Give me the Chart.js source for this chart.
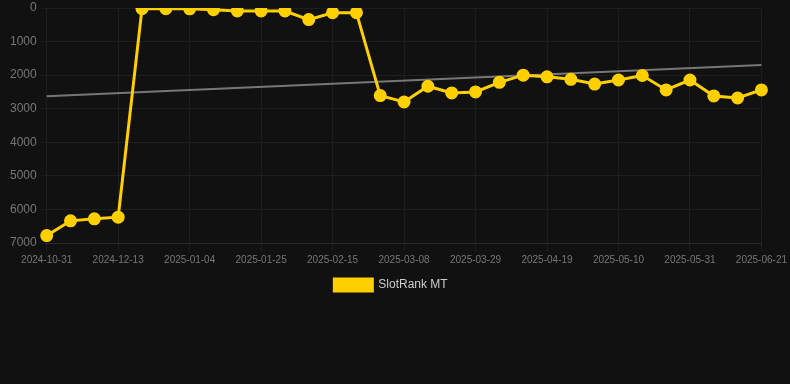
<!DOCTYPE html>
<html><head><meta charset="utf-8">
<script src="https://cdn.jsdelivr.net/npm/chart.js@4"></script>
<style>html,body{margin:0;padding:0;background:#111111;}#wrap{width:790px;height:301px;position:relative;}</style>
</head><body>
<div id="wrap"><canvas id="c"></canvas></div>
<script>
const labels = ["2024-10-31","2024-11-14","2024-11-28","2024-12-13","2024-12-21","2024-12-28","2025-01-04","2025-01-11","2025-01-18","2025-01-25","2025-02-01","2025-02-08","2025-02-15","2025-02-22","2025-03-01","2025-03-08","2025-03-15","2025-03-22","2025-03-29","2025-04-05","2025-04-12","2025-04-19","2025-04-26","2025-05-03","2025-05-10","2025-05-17","2025-05-24","2025-05-31","2025-06-07","2025-06-14","2025-06-21"];
const slotRank = [6780,6340,6280,6230,20,20,25,50,90,90,90,345,140,140,2610,2800,2330,2530,2500,2215,2000,2050,2125,2265,2145,2010,2440,2145,2620,2680,2440];
const trend = [2630,null,null,null,null,null,null,null,null,null,null,null,null,null,null,null,null,null,null,null,null,null,null,null,null,null,null,null,null,null,1695];
const yTicks = [0,1000,2000,3000,4000,5000,6000,7000];

new Chart(document.getElementById('c'), {
  type: 'line',
  data: {
    labels: labels,
    datasets: [
      {label:'SlotRank MT', data: slotRank, borderColor:'#FFD000', backgroundColor:'#FFD000', borderWidth:3, pointRadius:5, pointHoverRadius:5, tension:0, order:1},
      {label:'Trend', data: trend, borderColor:'#777777', borderWidth:2, pointRadius:0, spanGaps:true, order:2}
    ]
  },
  options: {
    responsive:true, maintainAspectRatio:false, animation:false,
    layout:{padding:{top:2,right:12,left:4,bottom:0}},
    plugins:{
      legend:{position:'bottom', labels:{color:'#cccccc', font:{family:'Arial, "Liberation Sans", sans-serif', size:12}, boxWidth:38, boxHeight:12, filter:(it)=>it.text==='SlotRank MT'}},
      tooltip:{enabled:false}
    },
    scales:{
      x:{ticks:{color:'#777777', font:{size:10, family:'Arial, "Liberation Sans", sans-serif'}, maxRotation:0, autoSkip:false, callback:function(v,i){return i%3===0?labels[i]:null;}}, grid:{color:'#1e1e1e', tickLength:8}, border:{color:'#2a2a2a'}},
      y:{reverse:true, min:0, max:7000, afterBuildTicks:(s)=>{s.ticks=yTicks.map(v=>({value:v}));}, afterFit:(s)=>{s.paddingTop=0;}, ticks:{color:'#777777', font:{size:12, family:'Arial, "Liberation Sans", sans-serif'}, padding:6, callback:(v)=>String(v)}, grid:{color:'#1e1e1e', tickLength:4}, border:{display:false}}
    }
  }
});
</script>
</body></html>
